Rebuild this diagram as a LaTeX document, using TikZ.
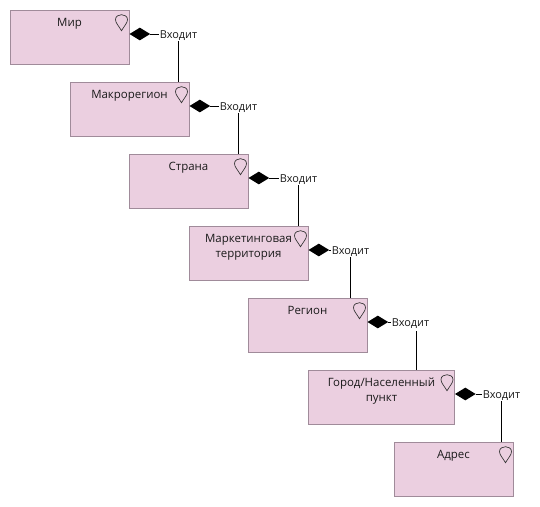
\documentclass[tikz,border=0pt]{standalone}
\usepackage{fontspec}
\setmainfont{Open Sans}
\usetikzlibrary{shapes.geometric}
\definecolor{boxfill}{HTML}{EBCFE0}
\definecolor{boxline}{HTML}{A08B9A}
\definecolor{txt}{HTML}{1A1A1A}
\tikzset{
  box/.style={draw=boxline,fill=boxfill,line width=0.75pt,minimum width=89.25pt,minimum height=40.5pt,inner sep=0pt},
  boxtext/.style={anchor=north,align=center,inner sep=0pt,font=\fontsize{8.6pt}{11.4pt}\selectfont,text=txt},
  rel/.style={inner sep=0.5pt,font=\fontsize{8.2pt}{10pt}\selectfont,text=txt},
  dia/.style={diamond,fill=black,inner sep=0pt,outer sep=0pt,minimum width=15.5pt,minimum height=9.5pt,aspect=1.6},
  conn/.style={draw=black,line width=0.7pt},
  pinmark/.pic={\draw[black!80,line width=0.5pt,fill=boxfill] (0,8) .. controls (-3,3) and (-6,0) .. (-6,-3) .. controls (-6,-6.5) and (-3,-8) .. (0,-8) .. controls (3,-8) and (6,-6.5) .. (6,-3) .. controls (6,0) and (3,3) .. (0,8) -- cycle;}
}
\newcommand{\unit}[7]{%
  % #1 name, #2 cx, #3 cy, #4 text, #5 has diamond, #6 label x, #7 width pt
  \node[box,minimum width=#7pt] (#1) at (#2,#3) {};
  \node[boxtext] (#1t) at ([yshift=-6.2pt]#1.north) {#4};
  \pic at ([xshift=-6pt,yshift=-9.9pt]#1.north east) {pinmark};
  \ifx&#5&\else
    \node[dia,anchor=west] (#1d) at ([yshift=2.25pt]#1.east) {};
    \node[rel] (#1r) at (#6,#3-1.4) {Входит};
    \draw[conn] (#1d.east) -- (#1d.east -| #1r.west);
  \fi
}
\begin{document}
\begin{tikzpicture}[x=0.75pt,y=-0.75pt]
\useasboundingbox (0,0) rectangle (540,507);
\unit{a}{69.5}{37}{Мир}{1}{178.5}{89.25}
\unit{b}{129.5}{109}{Макрорегион}{1}{238.5}{89.25}
\unit{c}{188.5}{181}{Страна}{1}{298.5}{89.25}
\unit{d}{248.5}{253}{Маркетинговая\\территория}{1}{350.5}{89.25}
\unit{e}{307.5}{325}{Регион}{1}{410.5}{89.25}
\unit{f}{381.5}{397}{Город/Населенный\\пункт}{1}{501.5}{109.5}
\unit{g}{453.5}{469}{Адрес}{}{}{89.25}
\coordinate (ej) at (416.5,331);
\draw[conn] (ar.south) -- (ar.south |- b.north);
\draw[conn] (br.south) -- (br.south |- c.north);
\draw[conn] (cr.south) -- (cr.south |- d.north);
\draw[conn] (dr.south) -- (dr.south |- e.north);
\draw[conn] (ej) -- (ej |- f.north);
\draw[conn] (fr.south) -- (fr.south |- g.north);
\end{tikzpicture}
\end{document}
